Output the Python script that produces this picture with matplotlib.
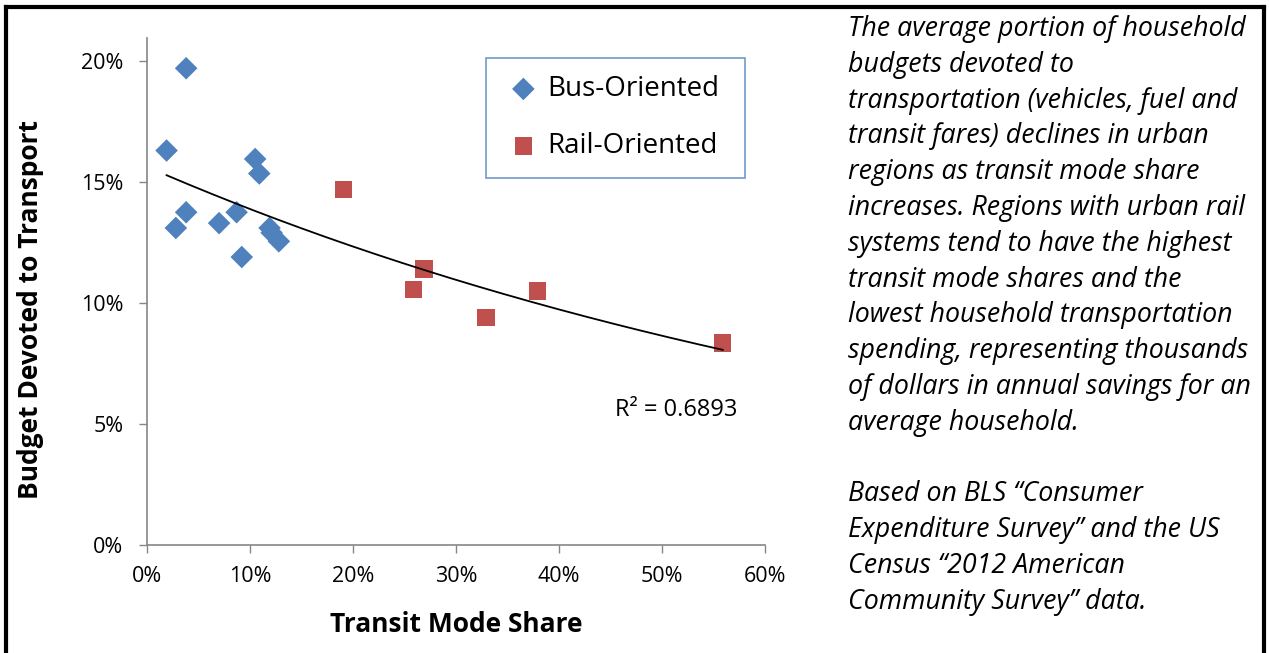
import numpy as np
import matplotlib
matplotlib.use("Agg")
import matplotlib.pyplot as plt
from matplotlib.lines import Line2D
from matplotlib.ticker import FuncFormatter

plt.rcParams['font.family'] = ['Open Sans', 'DejaVu Sans']

# data (percent)
bus_share = [3.8, 1.9, 10.5, 10.9, 3.8, 2.8, 7.0, 8.7, 9.2, 11.9, 12.1, 12.8]
bus_budget = [19.7, 16.3, 15.95, 15.35, 13.75, 13.1, 13.3, 13.75, 11.9, 13.1, 12.9, 12.55]
rail_share = [19.1, 26.9, 25.9, 32.9, 37.9, 55.9]
rail_budget = [14.7, 11.4, 10.55, 9.4, 10.5, 8.35]
r2_label = "R² = 0.6893"

x_ticks = [0, 10, 20, 30, 40, 50, 60]
y_ticks = [0, 5, 10, 15, 20]

note_lines = [
    "The average portion of household",
    "budgets devoted to",
    "transportation (vehicles, fuel and",
    "transit fares) declines in urban",
    "regions as transit mode share",
    "increases. Regions with urban rail",
    "systems tend to have the highest",
    "transit mode shares and the",
    "lowest household transportation",
    "spending, representing thousands",
    "of dollars in annual savings for an",
    "average household.",
    "",
    "Based on BLS \u201cConsumer",
    "Expenditure Survey\u201d and the US",
    "Census \u201c2012 American",
    "Community Survey\u201d data.",
]

W, H = 1269, 653
fig = plt.figure(figsize=(W / 100, H / 100), dpi=100)
fig.patch.set_facecolor('white')

ax = fig.add_axes([147 / W, 1 - 545 / H, (765 - 147) / W, (545 - 38) / H])

blue = '#4F81BD'
red = '#C0504D'
ax.scatter(bus_share, bus_budget, marker='D', s=11.5 ** 2, color=blue,
           edgecolors='none', label='Bus-Oriented', zorder=3)
ax.scatter(rail_share, rail_budget, marker='s', s=12.5 ** 2, color=red,
           edgecolors='none', label='Rail-Oriented', zorder=3)

# exponential trendline over all points
all_x = np.array(bus_share + rail_share)
all_y = np.array(bus_budget + rail_budget)
b, a = np.polyfit(all_x, np.log(all_y), 1)
xx = np.linspace(all_x.min(), all_x.max(), 200)
ax.plot(xx, np.exp(a + b * xx), color='black', lw=1.3, zorder=4)

ax.set_xlim(0, 60)
ax.set_ylim(0, 20.95)
ax.set_xticks(x_ticks)
ax.set_yticks(y_ticks)
pct = FuncFormatter(lambda v, p: f"{v:.0f}%")
ax.xaxis.set_major_formatter(pct)
ax.yaxis.set_major_formatter(pct)
ax.tick_params(axis='both', direction='out', length=6, width=1, color='#868686',
               labelsize=15.5, labelcolor='black')
ax.tick_params(axis='x', pad=9)
ax.tick_params(axis='y', pad=11)
for s in ['top', 'right']:
    ax.spines[s].set_visible(False)
for s in ['left', 'bottom']:
    ax.spines[s].set_color('#868686')
    ax.spines[s].set_linewidth(1.2)

fig.text(456 / W, 1 - 624 / H, "Transit Mode Share", ha='center', va='center',
         fontsize=19, fontweight='bold')
fig.text(31 / W, 1 - 310 / H, "Budget Devoted to Transport", ha='center',
         va='center', rotation=90, fontsize=19, fontweight='bold')
fig.text(676 / W, 1 - 410 / H, r2_label, ha='center', va='center', fontsize=17)

leg = ax.legend(loc='upper left',
                bbox_to_anchor=(486 / W, 1 - 175 / H, (745 - 486) / W, (175 - 58) / H),
                bbox_transform=fig.transFigure, mode='expand', fontsize=20,
                frameon=True, fancybox=False, edgecolor=blue, borderpad=0.62,
                labelspacing=1.05, handletextpad=0.15, handlelength=1.45,
                borderaxespad=0)
leg.get_frame().set_linewidth(1.2)

for i, line in enumerate(note_lines):
    fig.text(848 / W, 1 - (36 + i * 35.8) / H, line, ha='left',
             va='baseline', fontsize=19.3, style='italic')

# outer frame
lw = 3.0
fig.add_artist(Line2D([6 / W, 6 / W], [0, 1 - 7 / H], color='black', lw=lw))
fig.add_artist(Line2D([1264 / W, 1264 / W], [0, 1 - 7 / H], color='black', lw=lw))
fig.add_artist(Line2D([6 / W, 1264 / W], [1 - 7 / H, 1 - 7 / H], color='black', lw=lw))

fig.savefig('out.png', dpi=100)
